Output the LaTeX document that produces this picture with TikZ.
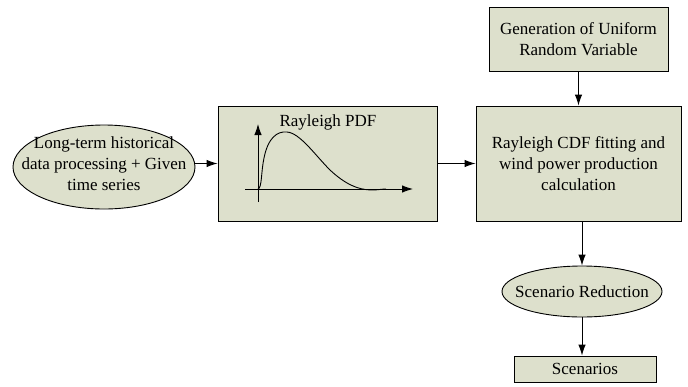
\documentclass[tikz,border=0pt]{standalone}
\usepackage{fontspec}
\setmainfont{Liberation Serif}
\usetikzlibrary{shapes.geometric,arrows.meta}
\definecolor{boxfill}{RGB}{221,224,204}
\tikzset{
  block/.style={draw, fill=boxfill, inner sep=0pt, align=center},
  oval/.style={draw, ellipse, fill=boxfill, inner sep=0pt},
}
\begin{document}
\begin{tikzpicture}[>={Latex[length=11pt,width=7.5pt]}, x=1pt, y=-1pt, line width=0.9pt,
    font=\fontsize{17}{21}\selectfont]
        \useasboundingbox (0,0) rectangle (688,386);
        % Defining the coordinates
        \coordinate (H) at (104,167);
        \coordinate (P) at (327.5,163.5);
        \coordinate (U) at (578.5,39);
        \coordinate (C) at (578.5,163.5);
        \coordinate (R) at (582,291.5);
        \coordinate (S) at (585,369);

        % Drawing the blocks
        \node[oval, minimum width=182pt, minimum height=84pt,
              label={[align=center, yshift=3pt]center:Long-term historical\\data processing + Given\\time series}] (hist) at (H) {};
        \node[block, minimum width=219pt, minimum height=115pt] (pdf) at (P) {};
        \node[block, minimum width=179pt, minimum height=64pt] (unif) at (U) {Generation of Uniform\\Random Variable};
        \node[block, minimum width=205pt, minimum height=115pt] (cdf) at (C) {Rayleigh CDF fitting and\\wind power production\\calculation};
        \node[oval, minimum width=160pt, minimum height=51pt,
              label={center:Scenario Reduction}] (red) at (R) {};
        \node[block, minimum width=142pt, minimum height=26pt] (scen) at (S) {Scenarios};

        % Small Rayleigh sketch inside the PDF block
        \node (pdftitle) at (328,122) {Rayleigh PDF};
        \coordinate (Ytop) at (258,124);
        \coordinate (Ybot) at (258,202);
        \coordinate (Xl) at (245,189);
        \coordinate (Xr) at (413,189);
        \draw[->] (Ybot) -- (Ytop);
        \draw[->] (Xl) -- (Xr);
        \draw (258,189) .. controls (262,188) and (261,172) .. (264,158)
              .. controls (268,138) and (277,131) .. (287,132)
              .. controls (300,133) and (315,155) .. (330,170)
              .. controls (345,184) and (358,190) .. (372,190)
              .. controls (378,190) and (382,189) .. (386,189);

        % Drawing lines with arrows
        \draw[->] (hist.east |- pdf.west) -- (pdf.west);
        \draw[->] (pdf.east) -- (cdf.west);
        \draw[->] (unif.south) -- (cdf.north);
        \draw[->] (red.north |- cdf.south) -- (red.north);
        \draw[->] (red.south) -- (red.south |- scen.north);
\end{tikzpicture}
\end{document}
